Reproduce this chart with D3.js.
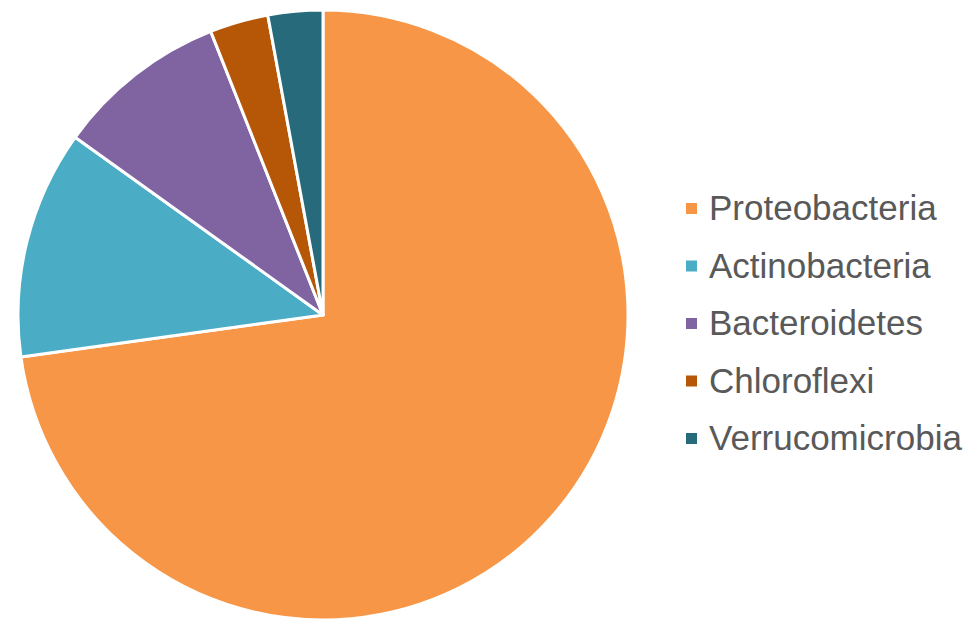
<!DOCTYPE html>
<html>
<head>
<meta charset="utf-8">
<script src="https://cdn.jsdelivr.net/npm/d3@7/dist/d3.min.js"></script>
<style>
  html, body { margin: 0; padding: 0; background: #fff; }
  svg { display: block; }
</style>
</head>
<body>
<svg id="chart" width="972" height="623"></svg>
<script>
// Phylum-level relative abundance (%)
const phyla = ["Proteobacteria", "Actinobacteria", "Bacteroidetes", "Chloroflexi", "Verrucomicrobia"];
const abundance = [72.8, 12.1, 9.1, 3.1, 2.9];
const colors = ["#F79646", "#4BACC6", "#8064A2", "#B65708", "#276A7C"];

const svg = d3.select("#chart");
const cx = 323, cy = 315, radius = 305;

const data = phyla.map((name, i) => ({ name, value: abundance[i] }));
const color = d3.scaleOrdinal().domain(phyla).range(colors);

const pie = d3.pie().value(d => d.value).sort(null);
const arc = d3.arc().innerRadius(0).outerRadius(radius);

svg.append("g")
  .attr("transform", `translate(${cx},${cy})`)
  .selectAll("path")
  .data(pie(data))
  .join("path")
  .attr("d", arc)
  .attr("fill", d => color(d.data.name))
  .attr("stroke", "#fff")
  .attr("stroke-width", 3)
  .attr("stroke-linejoin", "round");

// Legend
const legend = svg.append("g").attr("transform", "translate(686,203)");
const rowH = 57.5;
const item = legend.selectAll("g")
  .data(phyla)
  .join("g")
  .attr("transform", (d, i) => `translate(0,${i * rowH})`);

item.append("rect")
  .attr("width", 11)
  .attr("height", 11)
  .attr("fill", d => color(d));

item.append("text")
  .attr("x", 23)
  .attr("y", 17)
  .attr("font-family", "'Liberation Sans', Arial, sans-serif")
  .attr("font-size", 35)
  .attr("fill", "#595959")
  .text(d => d);
</script>
</body>
</html>
